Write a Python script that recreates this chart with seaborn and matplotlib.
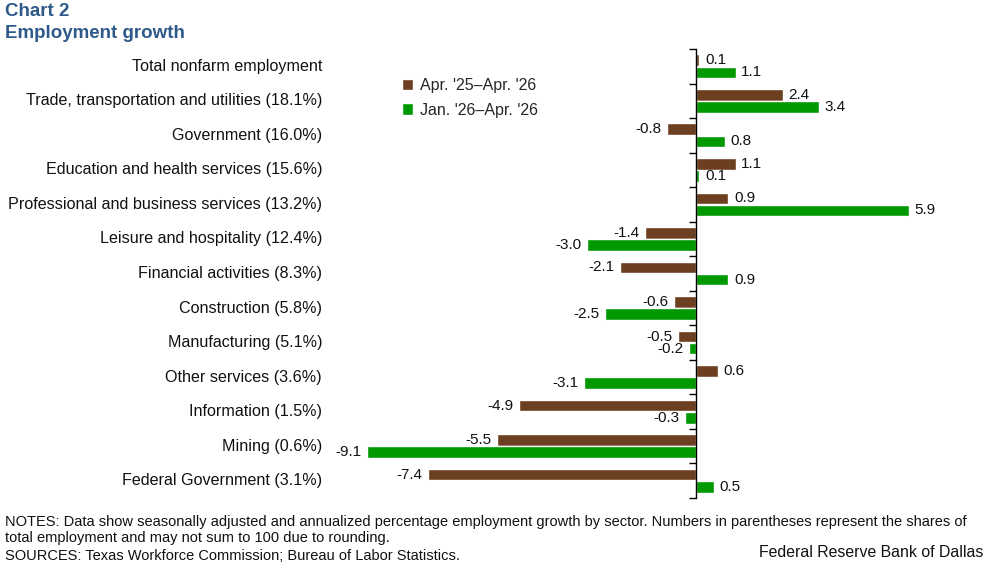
import matplotlib
matplotlib.use("Agg")
import matplotlib.pyplot as plt
import matplotlib.transforms as mtransforms
from matplotlib.patches import Patch
import seaborn as sns
import pandas as pd
import numpy as np

categories = [
    "Total nonfarm employment",
    "Trade, transportation and utilities (18.1%)",
    "Government (16.0%)",
    "Education and health services (15.6%)",
    "Professional and business services (13.2%)",
    "Leisure and hospitality (12.4%)",
    "Financial activities (8.3%)",
    "Construction (5.8%)",
    "Manufacturing (5.1%)",
    "Other services (3.6%)",
    "Information (1.5%)",
    "Mining (0.6%)",
    "Federal Government (3.1%)",
]
series_names = ["Apr. '25\u2013Apr. '26", "Jan. '26\u2013Apr. '26"]
year_growth = [0.1, 2.4, -0.8, 1.1, 0.9, -1.4, -2.1, -0.6, -0.5, 0.6, -4.9, -5.5, -7.4]
quarter_growth = [1.1, 3.4, 0.8, 0.1, 5.9, -3.0, 0.9, -2.5, -0.2, -3.1, -0.3, -9.1, 0.5]

colors = ["#6B3F1F", "#009900"]
title_color = "#2E5A8A"

df = pd.DataFrame({
    "sector": categories * 2,
    "series": [series_names[0]] * len(categories) + [series_names[1]] * len(categories),
    "value": year_growth + quarter_growth,
})

sns.set_style("white")
plt.rcParams["font.family"] = ["Liberation Sans", "DejaVu Sans"]

fig = plt.figure(figsize=(9.97, 5.65), dpi=100)
ax = fig.add_axes([330 / 997, 1 - 498 / 565, (967 - 330) / 997, (498 - 49) / 565])

sns.barplot(data=df, y="sector", x="value", hue="series", orient="h",
            palette=colors, order=categories, hue_order=series_names,
            width=0.7, gap=0.04, ax=ax, legend=False, saturation=1)

ax.set_xlim(-10.12, 7.5)
ax.set_ylim(len(categories) - 0.5, -0.5)

for cont in ax.containers:
    labels = [f"{b.get_width():.1f}" for b in cont]
    ax.bar_label(cont, labels=labels, padding=4, fontsize=11, color="#111111")

# spine at zero
for s in ["top", "right", "bottom"]:
    ax.spines[s].set_visible(False)
ax.spines["left"].set_position(("data", 0))
ax.spines["left"].set_color("black")
ax.spines["left"].set_linewidth(1)
ax.set_yticks(range(len(categories)))
ax.set_yticklabels([])
ax.tick_params(axis="y", which="major", length=0)
ax.set_yticks(np.arange(-0.5, len(categories), 1.0), minor=True)
ax.tick_params(axis="y", which="minor", left=True, length=5, width=1, direction="out", color="black")
ax.set_xticks([])
ax.set_xlabel("")
ax.set_ylabel("")

trans = mtransforms.blended_transform_factory(ax.transAxes, ax.transData)
for i, c in enumerate(categories):
    ax.text(-0.0125, i, c, transform=trans, ha="right", va="center", fontsize=11.6, color="#111111")

handles = [Patch(facecolor=colors[0]), Patch(facecolor=colors[1])]
fig.legend(handles, series_names, loc="upper left", bbox_to_anchor=(394 / 997, 1 - 70 / 565),
           frameon=False, fontsize=11.5, handlelength=0.7, handleheight=0.7,
           handletextpad=0.4, labelspacing=0.6, borderpad=0)

fig.text(5 / 997, 1 - 3 / 565, "Chart 2", fontsize=13.5, fontweight="bold", color=title_color,
         va="top", ha="left")
fig.text(5 / 997, 1 - 25 / 565, "Employment growth", fontsize=13.5, fontweight="bold",
         color=title_color, va="top", ha="left")

notes = ("NOTES: Data show seasonally adjusted and annualized percentage employment growth by sector. "
         "Numbers in parentheses represent the shares of\ntotal employment and may not sum to 100 due to rounding.")
fig.text(5 / 997, 1 - 515 / 565, notes, fontsize=10.5, va="top", ha="left", color="#111111",
         linespacing=1.2)
fig.text(5 / 997, 1 - 549 / 565, "SOURCES: Texas Workforce Commission; Bureau of Labor Statistics.",
         fontsize=10.5, va="top", ha="left", color="#111111")
fig.text(983 / 997, 1 - 545 / 565, "Federal Reserve Bank of Dallas", fontsize=11.4, va="top",
         ha="right", color="#111111")

fig.savefig("out.png", dpi=100)
